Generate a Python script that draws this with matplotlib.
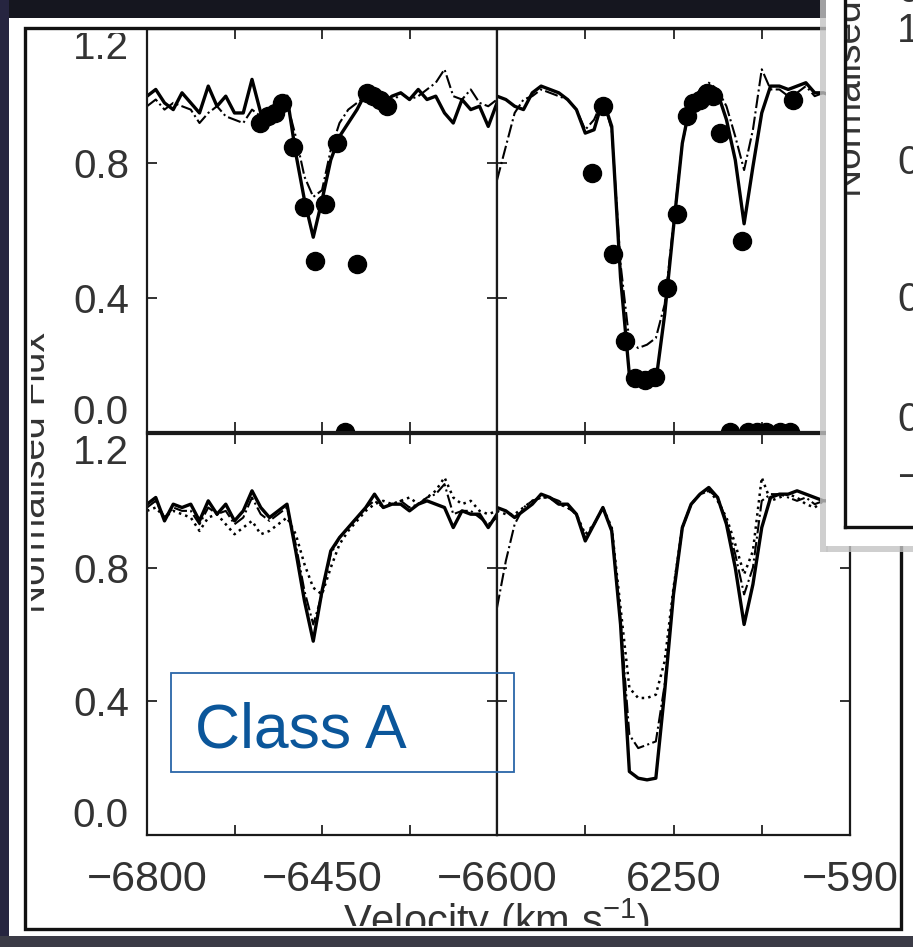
import matplotlib as mpl
mpl.use('Agg')
import matplotlib.pyplot as plt
from matplotlib.patches import Rectangle
from matplotlib.lines import Line2D
from matplotlib.transforms import Bbox, TransformedBbox
import numpy as np

W, H = 913, 947

# velocity grids (km/s) of the two halves of each row
vel_left = np.arange(-400, 1, 10)
vel_right = np.arange(0, 401, 10)

# top row, left half
top_left_solid = [1.00, 1.02, 0.98, 0.96, 1.01, 0.98, 0.95, 1.03, 0.97, 1.00,
                  0.95, 0.95, 1.05, 0.95, 0.94, 0.98, 1.00, 0.83, 0.69, 0.58,
                  0.69, 0.81, 0.88, 0.92, 0.96, 1.01, 1.02, 0.98, 1.00, 1.01,
                  0.99, 1.02, 0.99, 1.00, 0.95, 0.92, 0.99, 0.96, 0.97, 0.91,
                  0.98]
top_left_dashdot = [0.97, 0.99, 0.96, 0.98, 0.97, 0.96, 0.92, 0.95, 0.97, 0.94,
                    0.93, 0.92, 0.96, 0.94, 0.95, 0.97, 0.98, 0.88, 0.76, 0.70,
                    0.72, 0.84, 0.92, 0.96, 0.98, 1.00, 0.99, 1.00, 0.98, 1.01,
                    0.99, 1.00, 1.02, 1.04, 1.08, 1.00, 0.99, 1.02, 0.98, 0.97,
                    0.99]
top_left_dots_vel = [-271, -262, -254, -246, -233, -221, -208, -197, -183, -160,
                     -149, -142, -134, -126, -174]
top_left_dots_flux = [0.92, 0.94, 0.95, 0.98, 0.85, 0.67, 0.51, 0.68, 0.86, 0.50,
                      1.01, 1.00, 0.99, 0.97, 0.00]

# top row, right half
top_right_solid = [1.00, 0.99, 0.97, 0.96, 1.01, 1.03, 1.02, 1.01, 0.99, 0.96,
                   0.89, 0.90, 0.99, 0.91, 0.46, 0.17, 0.15, 0.14, 0.15, 0.35,
                   0.61, 0.86, 0.99, 1.01, 1.03, 1.01, 0.93, 0.81, 0.62, 0.79,
                   0.95, 1.03, 1.03, 1.02, 1.03, 1.04, 1.01, 1.01, 1.00, 1.00,
                   1.00]
top_right_dashdot = [0.75, 0.85, 0.95, 0.99, 1.00, 1.02, 1.01, 1.00, 0.99, 0.96,
                     0.90, 0.93, 0.99, 0.90, 0.50, 0.27, 0.25, 0.26, 0.28, 0.38,
                     0.62, 0.86, 0.98, 1.02, 1.04, 1.02, 0.97, 0.88, 0.78, 0.90,
                     1.08, 1.02, 1.02, 1.00, 1.01, 1.03, 1.00, 1.01, 1.00, 1.00,
                     1.00]
top_right_dots_vel = [108, 120, 131, 145, 156, 168, 179, 193, 204, 215, 222, 230,
                      238, 245, 253, 278, 335, 264, 284, 295, 305, 321, 332]
top_right_dots_flux = [0.77, 0.97, 0.53, 0.27, 0.16, 0.155, 0.165, 0.43, 0.65,
                       0.94, 0.98, 0.99, 1.01, 1.00, 0.89, 0.57, 0.99,
                       0.0, 0.0, 0.0, 0.0, 0.0, 0.0]

# bottom row, left half
bot_left_solid = [0.99, 1.01, 0.94, 0.99, 0.98, 0.99, 0.94, 1.00, 0.96, 0.99,
                  0.94, 0.97, 1.03, 0.98, 0.95, 0.97, 0.99, 0.85, 0.70, 0.58,
                  0.73, 0.85, 0.89, 0.92, 0.95, 0.98, 1.02, 0.98, 0.99, 0.99,
                  0.97, 0.99, 1.00, 0.99, 0.98, 0.92, 0.97, 0.96, 0.96, 0.92,
                  0.96]
bot_left_dotted = [0.97, 0.98, 0.95, 0.97, 0.96, 0.95, 0.91, 0.95, 0.96, 0.93,
                   0.90, 0.92, 0.94, 0.90, 0.91, 0.93, 0.95, 0.90, 0.81, 0.74,
                   0.72, 0.80, 0.87, 0.91, 0.94, 0.97, 0.99, 1.00, 0.99, 1.00,
                   1.01, 0.99, 1.01, 1.03, 1.07, 1.01, 0.99, 1.00, 0.97, 0.96,
                   0.97]
bot_left_dashdot = [0.98, 1.00, 0.95, 0.98, 0.97, 0.97, 0.93, 0.98, 0.96, 0.97,
                    0.93, 0.95, 1.01, 0.96, 0.94, 0.96, 0.98, 0.87, 0.73, 0.63,
                    0.72, 0.84, 0.89, 0.92, 0.95, 0.98, 1.00, 0.98, 0.99, 1.00,
                    0.98, 0.99, 1.01, 1.02, 1.05, 0.96, 0.97, 0.97, 0.95, 0.93,
                    0.95]

# bottom row, right half
bot_right_solid = [0.98, 0.97, 0.95, 0.97, 0.99, 1.02, 1.01, 0.99, 0.99, 0.96,
                   0.88, 0.93, 0.98, 0.91, 0.63, 0.19, 0.17, 0.165, 0.17, 0.43,
                   0.72, 0.92, 0.99, 1.02, 1.04, 1.01, 0.93, 0.80, 0.63, 0.75,
                   0.92, 1.01, 1.02, 1.02, 1.03, 1.02, 1.01, 1.00, 1.00, 1.00,
                   1.00]
bot_right_dotted = [0.97, 0.96, 0.96, 0.98, 1.00, 1.01, 1.01, 0.99, 0.98, 0.96,
                    0.90, 0.93, 0.98, 0.92, 0.68, 0.44, 0.41, 0.41, 0.42, 0.52,
                    0.74, 0.92, 0.99, 1.02, 1.03, 1.00, 0.95, 0.87, 0.78, 0.85,
                    1.07, 1.00, 1.01, 1.02, 1.01, 0.99, 0.98, 1.00, 1.00, 0.99,
                    1.00]
bot_right_dashdot = [0.68, 0.82, 0.93, 0.98, 1.00, 1.01, 1.01, 1.00, 0.98, 0.96,
                     0.89, 0.93, 0.98, 0.91, 0.64, 0.30, 0.26, 0.27, 0.28, 0.45,
                     0.73, 0.92, 0.99, 1.02, 1.03, 1.01, 0.94, 0.84, 0.72, 0.80,
                     1.00, 1.02, 1.02, 1.01, 1.00, 1.01, 0.99, 1.00, 1.00, 1.00,
                     1.00]

y_ticks = [0.0, 0.4, 0.8, 1.2]
y_labels = ['0.0', '0.4', '0.8', '1.2']
left_xticks = [-400, -300, -200, -100, 0]
left_xlabels = ['\u22126800', '', '\u22126450', '', '\u22126600']
right_xticks = [100, 200, 300, 400]
right_xlabels = ['', '6250', '', '\u2212590']

plt.rcParams['font.family'] = ['Liberation Sans', 'DejaVu Sans']
plt.rcParams['mathtext.default'] = 'regular'
TXT = '#333333'


def fx(px):
    return px / W


def fy(py):
    return 1 - py / H


fig = plt.figure(figsize=(W / 100, H / 100), dpi=100, facecolor='#15161f')


def px_rect(x0, y0, x1, y1, **kw):
    r = Rectangle((fx(x0), fy(y1)), fx(x1) - fx(x0), fy(y0) - fy(y1),
                  transform=fig.transFigure, **kw)
    fig.add_artist(r)
    return r


def px_line(x0, y0, x1, y1, **kw):
    fig.add_artist(Line2D([fx(x0), fx(x1)], [fy(y0), fy(y1)],
                          transform=fig.transFigure, **kw))


def clip_fig(x0, y0, x1, y1):
    return TransformedBbox(Bbox([[fx(x0), fy(y1)], [fx(x1), fy(y0)]]), fig.transFigure)


# the photographed sheet of paper
px_rect(9, 18, 913, 936, facecolor='white', edgecolor='none', zorder=-2)
px_rect(0, 0, 9, 947, facecolor='#262540', edgecolor='none', zorder=-1)
px_rect(0, 936, 913, 947, facecolor='#3b3b46', edgecolor='none', zorder=-1)


def make_axes(x0, x1, ytop, ybot):
    ax = fig.add_axes([fx(x0), fy(ybot), fx(x1) - fx(x0), fy(ytop) - fy(ybot)])
    ax.set_ylim(0, 1.2)
    ax.set_yticks(y_ticks)
    ax.tick_params(direction='in', length=7, width=1.3, top=True, right=True,
                   colors='#222222', labelcolor=TXT)
    ax.tick_params(axis='y', labelsize=29, pad=13)
    ax.tick_params(axis='x', labelsize=31, pad=18)
    for s in ax.spines.values():
        s.set_linewidth(1.6)
        s.set_color('#1a1a1a')
    return ax


ax_tl = make_axes(147, 497, 29, 432)
ax_tr = make_axes(497, 850, 29, 432)
ax_bl = make_axes(147, 497, 434, 835)
ax_br = make_axes(497, 850, 434, 835)

for ax in (ax_tl, ax_bl):
    ax.set_xlim(-400, 0)
    ax.set_xticks(left_xticks)
    ax.set_yticklabels(y_labels)
    labs = ax.get_yticklabels()
    labs[0].set_va('bottom')
    labs[-1].set_va('top')
for ax in (ax_tr, ax_br):
    ax.set_xlim(0, 400)
    ax.set_xticks(right_xticks)
    ax.set_yticklabels([])
ax_tl.set_xticklabels([])
ax_tr.set_xticklabels([])
ax_bl.set_xticklabels(left_xlabels)
ax_br.set_xticklabels(right_xlabels)
# the top "1.2" is partly hidden under the frame line
ax_tl.get_yticklabels()[-1].set_clip_box(clip_fig(0, 33, W, H))
ax_tl.get_yticklabels()[-1].set_clip_on(True)

# spectra
ax_tl.plot(vel_left, top_left_solid, '-', color='black', lw=2.4)
ax_tl.plot(vel_left, top_left_dashdot, '-.', color='black', lw=1.5)
ax_tl.plot(top_left_dots_vel, top_left_dots_flux, 'o', color='black', ms=13)

ax_tr.plot(vel_right, top_right_solid, '-', color='black', lw=2.4)
ax_tr.plot(vel_right, top_right_dashdot, '-.', color='black', lw=1.5)
ax_tr.plot(top_right_dots_vel, top_right_dots_flux, 'o', color='black', ms=13)

ax_bl.plot(vel_left, bot_left_solid, '-', color='black', lw=2.4)
ax_bl.plot(vel_left, bot_left_dotted, ':', color='black', lw=1.8)
ax_bl.plot(vel_left, bot_left_dashdot, '-.', color='black', lw=1.5)

ax_br.plot(vel_right, bot_right_solid, '-', color='black', lw=2.4)
ax_br.plot(vel_right, bot_right_dotted, ':', color='black', lw=1.8)
ax_br.plot(vel_right, bot_right_dashdot, '-.', color='black', lw=1.5)

# outer frame of the figure
px_rect(25, 28, 901, 929, facecolor='none', edgecolor='#111111', lw=2.4, zorder=3)

t = fig.text(fx(45), fy(613), 'Normalised Flux', rotation=90, rotation_mode='anchor',
             ha='left', va='baseline', fontsize=28, color=TXT, zorder=3)
t.set_clip_box(clip_fig(31, 0, W, H))
t.set_clip_on(True)

t = fig.text(fx(497), fy(897), 'Velocity (km s$^{-1}$)', ha='center', va='top',
             fontsize=30, color=TXT, zorder=3)
t.set_clip_box(clip_fig(0, 0, W, 926))
t.set_clip_on(True)

# "Class A" annotation
px_rect(171, 673, 514, 772, facecolor='none', edgecolor='#2a66a8', lw=1.3, zorder=4)
fig.text(fx(195), fy(747), 'Class A', fontsize=45, color='#0b569a', va='baseline', zorder=4)

# second sheet lying on top at the right
px_rect(820, 0, 828, 552, facecolor='#c4c4c4', edgecolor='none', alpha=0.8, zorder=5)
px_rect(826, 546, 913, 552, facecolor='#c4c4c4', edgecolor='none', alpha=0.8, zorder=5)
px_rect(826, 0, 913, 546, facecolor='white', edgecolor='none', zorder=6)
px_line(845, 0, 845, 527, color='#111111', lw=2.4, zorder=7)
px_line(845, 527, 913, 527, color='#111111', lw=2.4, zorder=7)

t = fig.text(fx(861), fy(197), 'Normalised Flux', rotation=90, rotation_mode='anchor',
             ha='left', va='baseline', fontsize=28, color=TXT, zorder=8)
t.set_clip_box(clip_fig(847, 0, W, H))
t.set_clip_on(True)
fig.text(fx(897), fy(10), '0.0', ha='left', va='bottom', fontsize=29, color=TXT, zorder=8)
fig.text(fx(897), fy(12), '1.2', ha='left', va='top', fontsize=29, color=TXT, zorder=8)
for py, lab in [(163, '0.8'), (300, '0.4'), (420, '0.0')]:
    fig.text(fx(897), fy(py), lab, ha='left', va='center', fontsize=29, color=TXT, zorder=8)
fig.text(fx(897), fy(478), '\u2212', ha='left', va='center', fontsize=29, color=TXT, zorder=8)

fig.savefig('out.png', dpi=100, facecolor=fig.get_facecolor())
